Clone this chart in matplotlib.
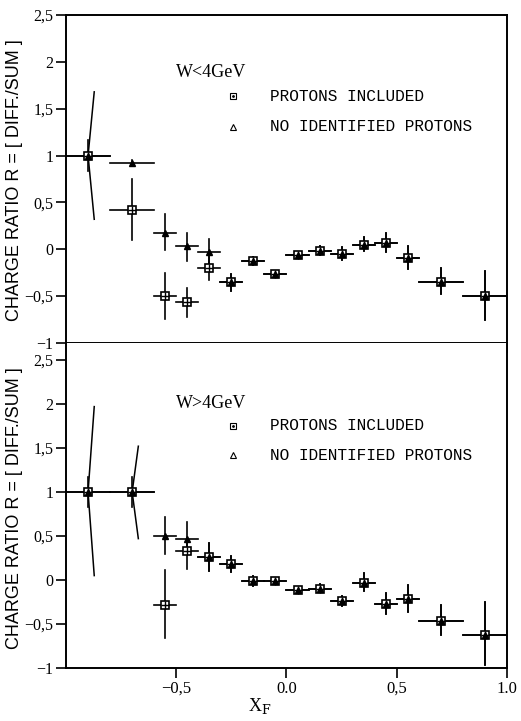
import matplotlib
matplotlib.use("Agg")
import matplotlib.pyplot as plt

# x_F bins (centres and half widths), same for both panels
x_f = [-0.9, -0.7, -0.55, -0.45, -0.35, -0.25, -0.15, -0.05,
       0.05, 0.15, 0.25, 0.35, 0.45, 0.55, 0.7, 0.9]
x_half = [0.1, 0.1, 0.05, 0.05, 0.05, 0.05, 0.05, 0.05,
          0.05, 0.05, 0.05, 0.05, 0.05, 0.05, 0.1, 0.1]

# W < 4 GeV : no identified protons (triangles)
tri_lt = [1.0, 0.92, 0.17, 0.03, -0.03, -0.35, -0.125, -0.26,
          -0.06, -0.02, -0.05, 0.05, 0.07, -0.09, -0.35, -0.5]
tri_lt_lo = [0.83, 0.89, -0.01, -0.12, -0.15, -0.45, -0.165, -0.29,
             -0.09, -0.06, -0.11, -0.02, -0.03, -0.21, -0.48, -0.75]
tri_lt_hi = [1.17, 0.95, 0.38, 0.17, 0.11, -0.26, -0.085, -0.23,
             -0.03, 0.03, 0.02, 0.13, 0.17, 0.04, -0.2, -0.23]

# W < 4 GeV : protons included (squares)
sq_lt = [1.0, 0.42, -0.5, -0.56, -0.2, -0.35, -0.125, -0.26,
         -0.06, -0.02, -0.05, 0.05, 0.07, -0.09, -0.35, -0.5]
sq_lt_lo = [0.32, 0.1, -0.74, -0.72, -0.33, -0.45, -0.165, -0.29,
            -0.09, -0.06, -0.11, -0.02, -0.03, -0.21, -0.48, -0.75]
sq_lt_hi = [1.68, 0.75, -0.25, -0.41, -0.08, -0.26, -0.085, -0.23,
            -0.03, 0.03, 0.02, 0.13, 0.17, 0.04, -0.2, -0.23]

# W > 4 GeV : no identified protons (triangles)
tri_gt = [1.0, 1.0, 0.5, 0.47, 0.26, 0.18, -0.01, -0.01,
          -0.11, -0.1, -0.24, -0.03, -0.27, -0.22, -0.47, -0.63]
tri_gt_lo = [0.83, 0.83, 0.3, 0.32, 0.1, 0.09, -0.07, -0.04,
             -0.14, -0.14, -0.3, -0.12, -0.39, -0.36, -0.63, -0.97]
tri_gt_hi = [1.17, 1.17, 0.72, 0.66, 0.42, 0.27, 0.05, 0.02,
             -0.08, -0.05, -0.18, 0.08, -0.15, -0.06, -0.28, -0.25]

# W > 4 GeV : protons included (squares)
sq_gt = [1.0, 1.0, -0.28, 0.33, 0.26, 0.18, -0.01, -0.01,
         -0.11, -0.1, -0.24, -0.03, -0.27, -0.22, -0.47, -0.63]
sq_gt_lo = [0.05, 0.47, -0.66, 0.12, 0.1, 0.09, -0.07, -0.04,
            -0.14, -0.14, -0.3, -0.12, -0.39, -0.36, -0.63, -0.97]
sq_gt_hi = [1.97, 1.52, 0.11, 0.47, 0.42, 0.27, 0.05, 0.02,
            -0.08, -0.05, -0.18, 0.08, -0.15, -0.06, -0.28, -0.25]

y_ticks = [-1, -0.5, 0, 0.5, 1, 1.5, 2, 2.5]
y_tick_labels = ["\u22121", "\u22120,5", "0", "0,5", "1", "1,5", "2", "2,5"]
x_ticks = [-0.5, 0.0, 0.5, 1.0]
x_tick_labels = ["\u22120,5", "0.0", "0,5", "1.0"]

plt.rcParams["font.family"] = ["Liberation Serif", "DejaVu Serif"]
plt.rcParams["mathtext.fontset"] = "dejavuserif"

LEAN = 0.028  # the very long error bars lean in the original drawing


def draw_series(ax, y, lo, hi, marker):
    for xc, hw, yc, l, h in zip(x_f, x_half, y, lo, hi):
        ax.plot([xc - hw, xc + hw], [yc, yc], color="black", lw=1.2, zorder=2)
        if h - l > 1.0:
            ax.plot([xc + LEAN, xc, xc + LEAN], [h, yc, l], color="black", lw=1.1, zorder=2)
        else:
            ax.plot([xc, xc], [l, h], color="black", lw=1.2, zorder=2)
    if marker == "s":
        ax.plot(x_f, y, ls="none", marker="s", ms=5.5, mfc="white", mec="black", mew=1.2, zorder=3)
        ax.plot(x_f, y, ls="none", marker="+", ms=5.5, mec="black", mew=1.0, zorder=4)
    else:
        ax.plot(x_f, y, ls="none", marker="^", ms=5, mfc="black", mec="black", zorder=5)


def style_axes(ax, ylim, label, label_y):
    ax.set_xlim(-1, 1)
    ax.set_ylim(*ylim)
    ax.set_yticks(y_ticks)
    ax.set_yticklabels(y_tick_labels, fontsize=11.5)
    ax.set_xticks(x_ticks)
    ax.tick_params(axis="both", direction="out", length=7, width=1.2, pad=2,
                   top=False, right=False)
    for s in ax.spines.values():
        s.set_linewidth(1.4)
    ax.text(0.25, label_y, label, transform=ax.transAxes,
            fontsize=13, va="center")


fig = plt.figure(figsize=(5.21, 7.21), dpi=100)
ax_top = fig.add_axes([0.1267, 0.5243, 0.8464, 0.4549])
ax_bot = fig.add_axes([0.1267, 0.0735, 0.8464, 0.4508])

draw_series(ax_top, sq_lt, sq_lt_lo, sq_lt_hi, "s")
draw_series(ax_top, tri_lt, tri_lt_lo, tri_lt_hi, "^")
draw_series(ax_bot, sq_gt, sq_gt_lo, sq_gt_hi, "s")
draw_series(ax_bot, tri_gt, tri_gt_lo, tri_gt_hi, "^")

style_axes(ax_top, (-1, 2.5), "W<4GeV", 0.826)
ax_top.set_xticklabels([])
style_axes(ax_bot, (-1, 2.693), "W>4GeV", 0.815)
ax_bot.spines["top"].set_visible(False)
ax_bot.set_xticklabels(x_tick_labels, fontsize=12)
ax_bot.set_xlabel("X$_\\mathrm{F}$", fontsize=13)
ax_bot.xaxis.set_label_coords(0.44, -0.085)

# legend entries drawn as plain text next to small markers
for ax, rows in ((ax_top, (0.753, 0.659)), (ax_bot, (0.745, 0.655))):
    ax.plot([0.378], [rows[0]], transform=ax.transAxes, marker="s", ms=4.5,
            mfc="white", mec="black", mew=0.8, ls="none")
    ax.plot([0.378], [rows[0]], transform=ax.transAxes, marker=".", ms=2,
            color="black", ls="none")
    ax.plot([0.378], [rows[1]], transform=ax.transAxes, marker="^", ms=4.5,
            mfc="white", mec="black", mew=0.8, ls="none")
    ax.text(0.463, rows[0], "PROTONS INCLUDED", transform=ax.transAxes,
            family="Liberation Mono", fontsize=11.6, va="center")
    ax.text(0.463, rows[1], "NO IDENTIFIED PROTONS", transform=ax.transAxes,
            family="Liberation Mono", fontsize=11.6, va="center")

ylab = "CHARGE RATIO R = [ DIFF./SUM ]"
fig.text(0.027, 0.750, ylab, rotation=90, ha="center", va="center",
         family="Liberation Sans", fontsize=13)
fig.text(0.027, 0.295, ylab, rotation=90, ha="center", va="center",
         family="Liberation Sans", fontsize=13)

fig.savefig("out.png", dpi=100)
